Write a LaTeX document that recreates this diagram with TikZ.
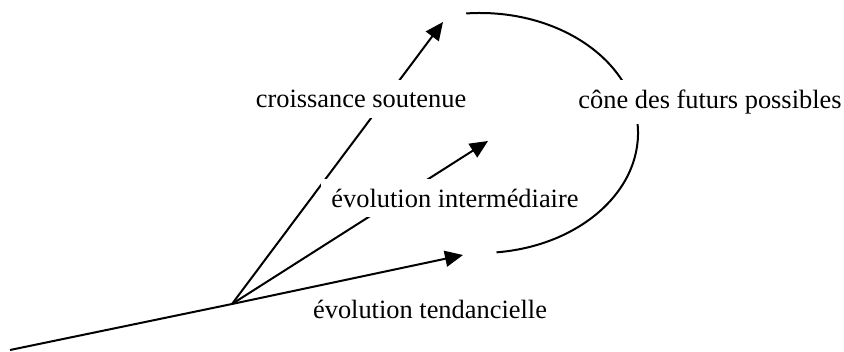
\documentclass[tikz,border=0pt]{standalone}
\usepackage{fontspec}
\setmainfont{Liberation Serif}
\usetikzlibrary{arrows.meta}

\tikzset{
    fleche/.style={line width=1pt, -{Triangle[length=9pt, width=8pt]}},
    trait/.style={line width=1pt},
    etiquette/.style={fill=white, inner sep=5pt, font=\fontsize{13.2pt}{15pt}\selectfont}
}

\begin{document}
\begin{tikzpicture}[x=0.5pt, y=-0.5pt]
    \useasboundingbox (0,0) rectangle (844,352);

    % points
    \coordinate (depart) at (10,350);
    \coordinate (origine) at (232,304);
    \coordinate (haut) at (443,22);
    \coordinate (milieu) at (488,141);
    \coordinate (bas) at (463,255);

    % tronc et trajectoires
    \draw[trait] (depart) -- (origine);
    \draw[fleche] (origine) -- (haut);
    \draw[fleche] (origine) -- (milieu);
    \draw[fleche] (origine) -- (bas);

    % cone
    \draw[trait] (480,133) ++(-95:158 and 120) coordinate (cone) arc[start angle=-95, end angle=84, x radius=158, y radius=120];

    % labels
    \node[etiquette] (croissance) at (361,99) {croissance soutenue};
    \node[etiquette] (intermediaire) at (455,198) {évolution intermédiaire};
    \node[etiquette, inner sep=2pt] (tendancielle) at (430,309) {évolution tendancielle};
    \node[etiquette] (futurs) at (710,102) {cône des futurs possibles};
\end{tikzpicture}
\end{document}
